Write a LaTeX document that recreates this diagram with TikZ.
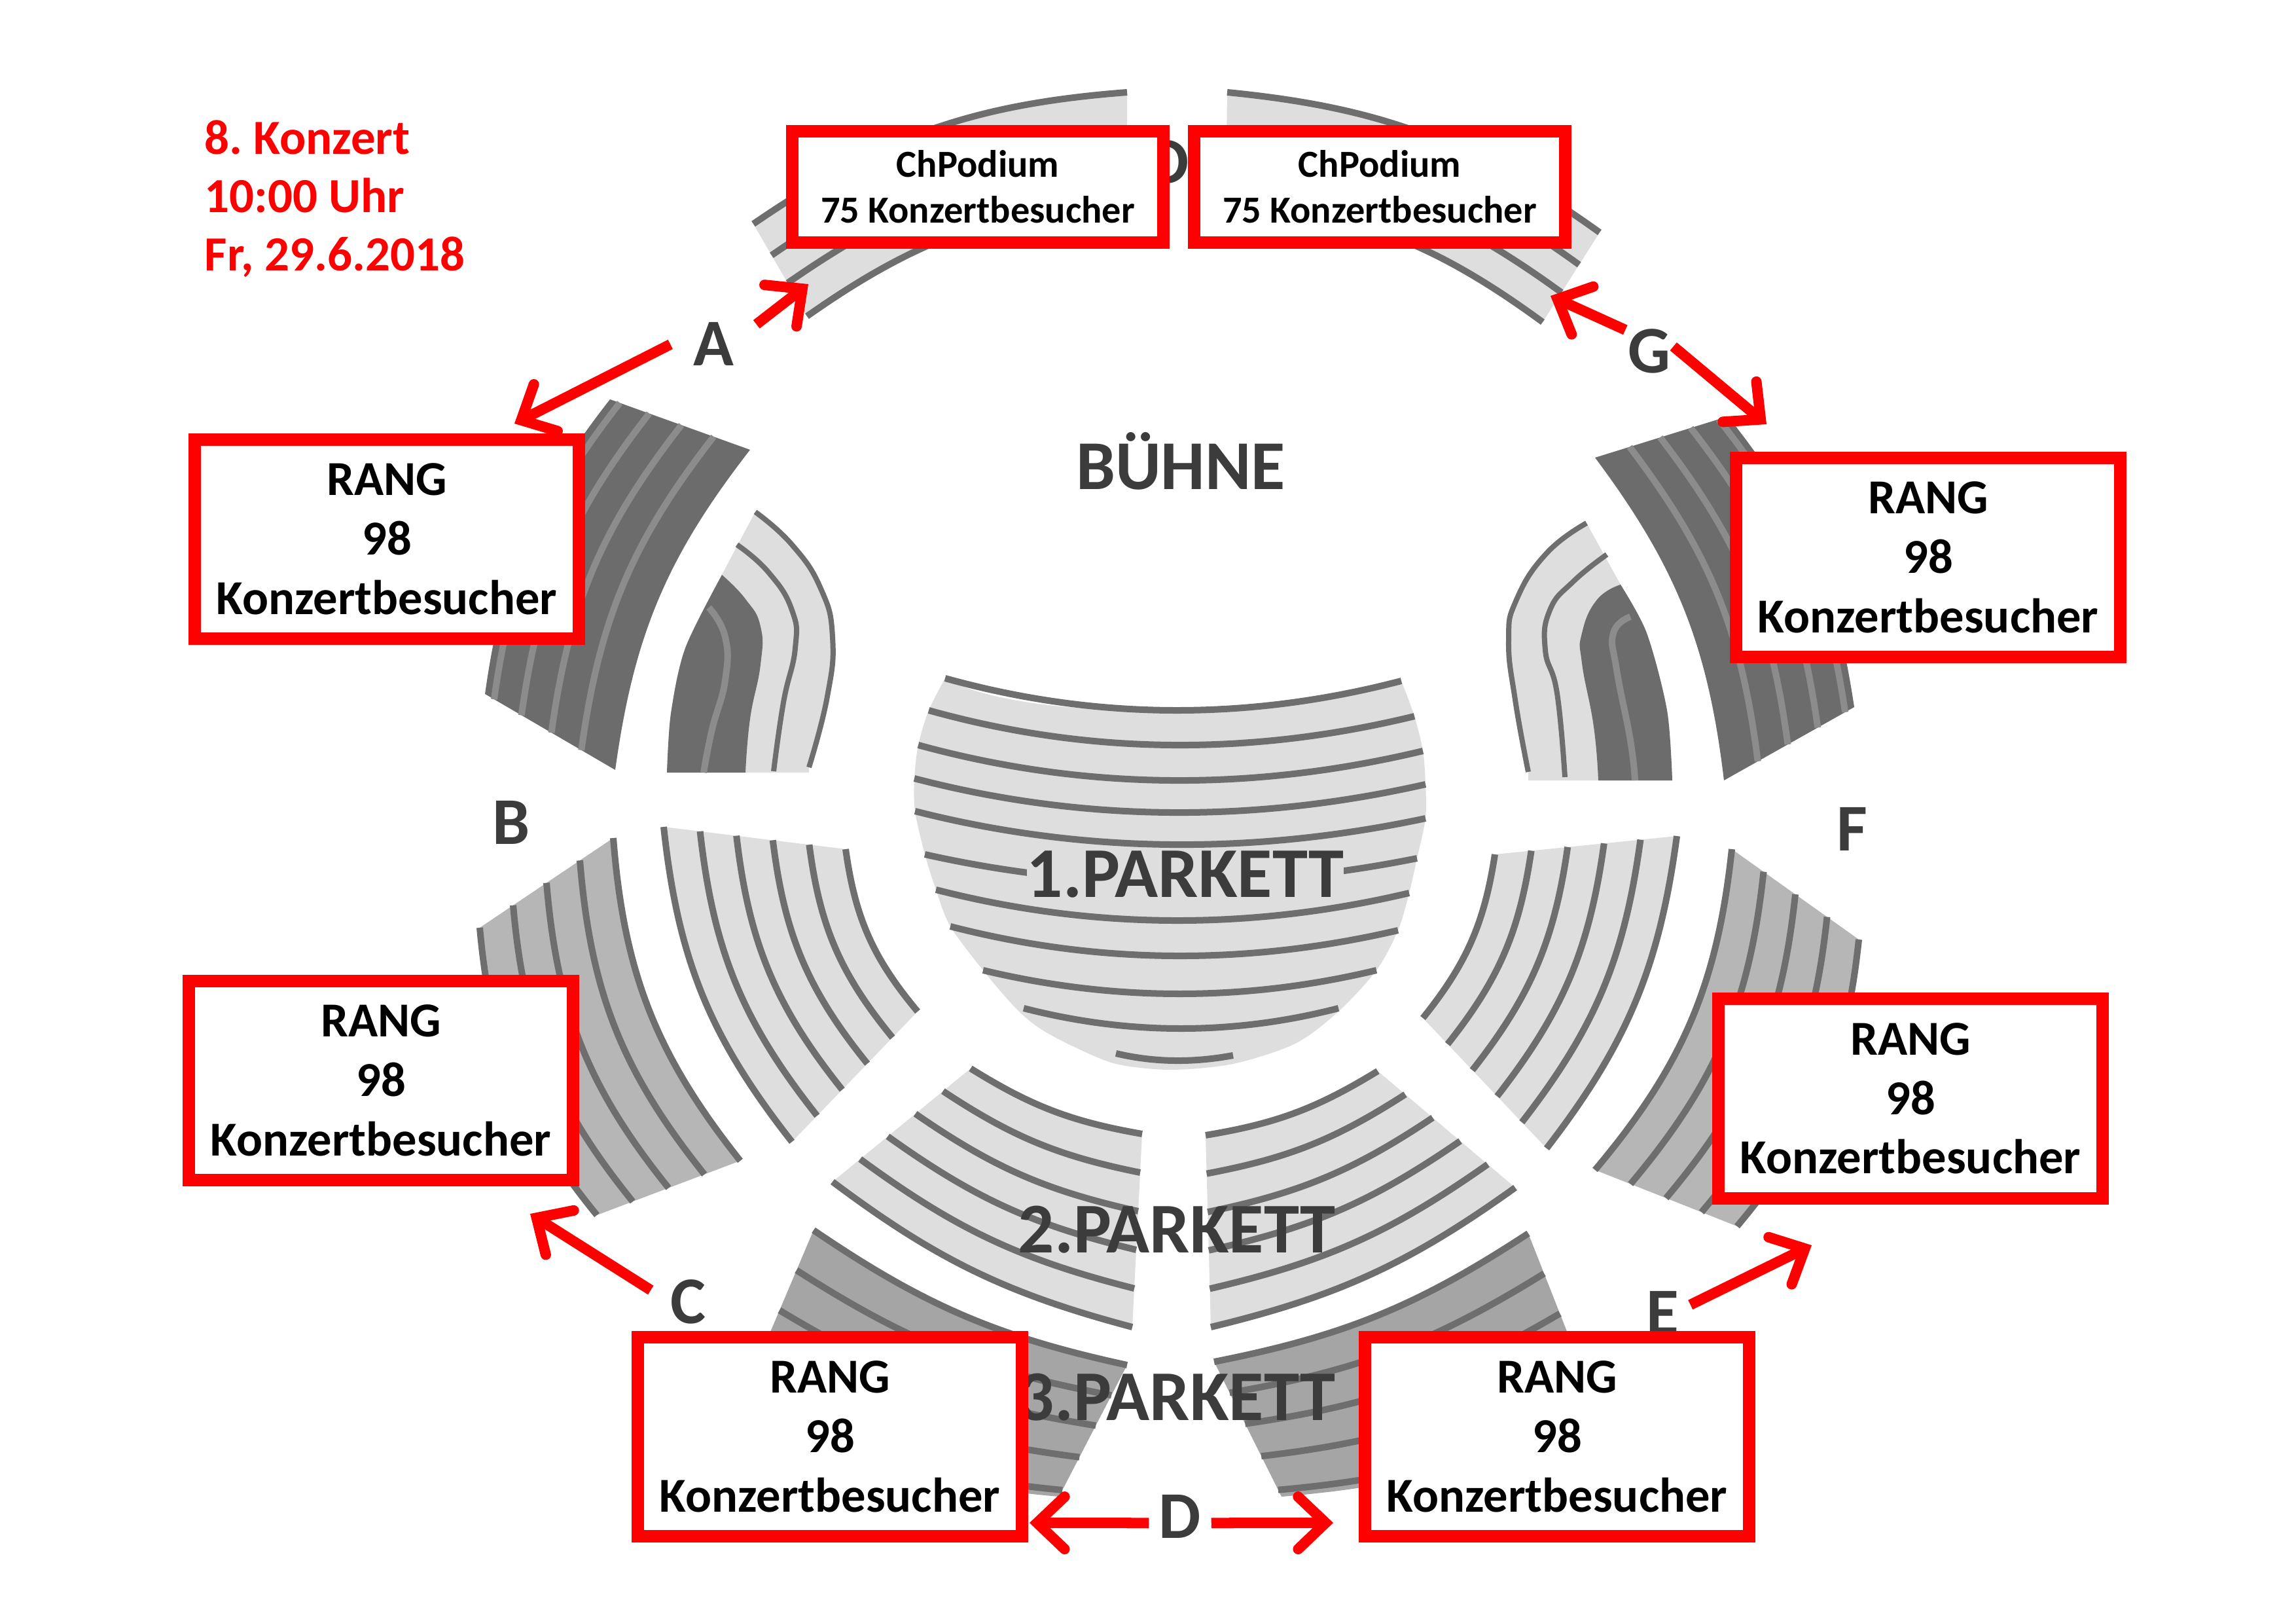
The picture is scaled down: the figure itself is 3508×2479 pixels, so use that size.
\documentclass[tikz,border=0pt]{standalone}
\usepackage{fontspec}
\setmainfont{Carlito}
\usepackage{xcolor}
\usetikzlibrary{arrows.meta, calc}
\definecolor{RedMark}{RGB}{255, 0, 0}
\definecolor{ScanInk}{RGB}{60, 60, 60}
\definecolor{SeatDark}{RGB}{108, 108, 108}
\definecolor{SeatDarkRow}{RGB}{140, 140, 140}
\definecolor{SeatMid}{RGB}{182, 182, 182}
\definecolor{SeatLow}{RGB}{165, 165, 165}
\definecolor{SeatLight}{RGB}{222, 222, 222}
\definecolor{SeatRow}{RGB}{110, 110, 110}

% inner start, inner end, outer end, outer start, bend, fill, row colour, rows
\newcommand{\seatblock}[8]{
  \fill[#6] #1 to[bend right=#5] #2 -- #3 to[bend left=#5] #4 -- cycle;
  \foreach \rowpos in {#8}
    \draw[seatrow, #7] ($#1!\rowpos!#4$) to[bend right=#5] ($#2!\rowpos!#3$);
}

\tikzset{
  seatrow/.style={line width=0.10cm},
  rangbox/.style={draw=RedMark, line width=0.19cm, fill=white, align=center, inner sep=0pt,
    minimum width=5.87cm, minimum height=3.04cm, text=black,
    font=\fontsize{21.2}{25.8}\selectfont\bfseries},
  podiumbox/.style={draw=RedMark, line width=0.19cm, fill=white, align=center, inner sep=0pt,
    minimum width=5.67cm, minimum height=1.70cm, text=black,
    font=\fontsize{16.6}{19.9}\selectfont\bfseries},
  scanletter/.style={text=ScanInk, inner sep=0pt, minimum height=1cm, text height=0.65cm, text depth=0pt,
    font=\fontsize{29}{30}\selectfont\bfseries},
  scanlabel/.style={text=ScanInk, inner sep=0pt, text height=0.7cm, text depth=0pt,
    font=\fontsize{31}{32}\selectfont\bfseries},
  redarrow/.style={draw=RedMark, line width=0.16cm,
    -{Straight Barb[length=0.42cm, width=0.8cm, line width=0.16cm, line cap=round, line join=miter]}}
}

\begin{document}
\begin{tikzpicture}[x=0.01cm,y=-0.01cm]
  \useasboundingbox (0,0) rectangle (3508,2479);

  % choir podium
  \seatblock{(1722,304)}{(1233,483)}{(1151,342)}{(1722,141)}{15}{SeatLight}{SeatRow}{0,0.36,0.66,1}
  \seatblock{(2357,492)}{(1873,304)}{(1875,141)}{(2444,355)}{15}{SeatLight}{SeatRow}{0,0.33,0.64,1}

  % upper rank
  \seatblock{(1146,687)}{(940,1176)}{(741,1060)}{(932,610)}{15}{SeatDark}{SeatDarkRow}{0.26,0.49,0.72,0.93}
  \seatblock{(2634,1192)}{(2437,699)}{(2640,636)}{(2833,1080)}{15}{SeatDark}{SeatDarkRow}{0.26,0.49,0.72,0.93}

  % small side blocks
  \fill[SeatLight] plot[smooth, tension=0.8] coordinates {(1154,782) (1210,832) (1254,899) (1272,973) (1264,1064) (1236,1172)}
    -- (1236,1180) -- (1019,1180) -- plot[smooth] coordinates {(1019,1180) (1025,1090) (1047,990) (1103,878) (1154,782)} -- cycle;
  \fill[SeatDark] plot[smooth, tension=0.8] coordinates {(1103,878) (1139,915) (1162,957) (1162,1015) (1146,1098) (1139,1180)}
    -- (1019,1180) -- plot[smooth] coordinates {(1019,1180) (1025,1090) (1047,990) (1103,878)} -- cycle;
  \draw[seatrow, SeatDarkRow] plot[smooth, tension=0.8] coordinates {(1083,928) (1108,973) (1108,1039) (1088,1114) (1075,1180)};
  \draw[seatrow, SeatRow, line width=0.08cm] plot[smooth, tension=0.8] coordinates {(1154,782) (1210,832) (1254,899) (1272,973) (1264,1064) (1236,1172)};
  \draw[seatrow, SeatRow, line width=0.08cm] plot[smooth, tension=0.8] coordinates {(1126,832) (1174,874) (1210,932) (1215,990) (1197,1073) (1182,1178)};

  \fill[SeatLight] plot[smooth, tension=0.8] coordinates {(2424,799) (2363,845) (2317,916) (2305,978) (2315,1069) (2335,1179)}
    -- (2335,1192) -- (2555,1192) -- plot[smooth] coordinates {(2555,1192) (2547,1085) (2516,967) (2476,893) (2424,799)} -- cycle;
  \fill[SeatDark] plot[smooth, tension=0.8] coordinates {(2476,893) (2440,916) (2417,967) (2417,1013) (2435,1110) (2442,1192)}
    -- (2555,1192) -- plot[smooth] coordinates {(2555,1192) (2547,1085) (2516,967) (2476,893)} -- cycle;
  \draw[seatrow, SeatDarkRow] plot[smooth, tension=0.8] coordinates {(2491,942) (2465,967) (2470,1023) (2491,1131) (2498,1192)};
  \draw[seatrow, SeatRow, line width=0.08cm] plot[smooth, tension=0.8] coordinates {(2424,799) (2363,845) (2317,916) (2305,978) (2315,1069) (2335,1179)};
  \draw[seatrow, SeatRow, line width=0.08cm] plot[smooth, tension=0.8] coordinates {(2455,847) (2404,888) (2368,932) (2361,993) (2379,1059) (2391,1187)};

  % lower rank
  \seatblock{(937,1280)}{(1131,1773)}{(912,1856)}{(733,1417)}{17}{SeatMid}{SeatRow}{0,0.25,0.5,0.75,1}
  \seatblock{(2437,1787)}{(2646,1297)}{(2840,1435)}{(2654,1873)}{17}{SeatMid}{SeatRow}{0,0.25,0.5,0.75,1}

  % side parkett
  \seatblock{(1292,1297)}{(1402,1545)}{(1210,1744)}{(1014,1263)}{16}{SeatLight}{SeatRow}{0,0.2,0.4,0.6,0.8,1}
  \seatblock{(2174,1555)}{(2284,1305)}{(2562,1277)}{(2363,1754)}{15}{SeatLight}{SeatRow}{0,0.2,0.4,0.6,0.8,1}

  % 1. parkett
  \fill[SeatLight] (1444,1036) .. controls (1559,1101) and (1915,1101) .. (2141,1040)
    -- plot[smooth] coordinates {(2141,1040) (2161,1094) (2174,1147) (2178,1198) (2178,1250) (2165,1311) (2153,1364) (2136,1421) (2103,1482) (2045,1545) (1979,1594) (1884,1625) (1788,1634) (1705,1625) (1639,1598) (1589,1571) (1552,1540) (1502,1482) (1452,1415) (1430,1359) (1413,1305) (1398,1239) (1397,1189) (1403,1138) (1419,1085) (1444,1036)} -- cycle;
  \foreach \xa/\ya/\ym/\xb/\yb in {1444/1036/1085/2141/1040, 1419/1085/1138/2161/1094, 1403/1138/1192/2174/1147,
      1397/1189/1241/2178/1198, 1398/1239/1290/2178/1250, 1413/1305/1348/2165/1311, 1430/1359/1406/2153/1364,
      1452/1415/1460/2136/1421, 1502/1482/1518/2103/1482, 1564/1540/1571/2045/1540, 1705/1609/1620/1884/1612}
    \draw[seatrow, SeatRow] (\xa,\ya) .. controls ({\xa+(\xb-\xa)/3},{\ym+(\ym-(\ya+\yb)/2)/3})
      and ({\xa+2*(\xb-\xa)/3},{\ym+(\ym-(\ya+\yb)/2)/3}) .. (\xb,\yb);

  % 2. parkett
  \seatblock{(1483,1632)}{(1745,1732)}{(1730,2027)}{(1272,1805)}{11}{SeatLight}{SeatRow}{0,0.2,0.4,0.6,0.8,1}
  \seatblock{(1842,1734)}{(2105,1636)}{(2315,1814)}{(1850,2027)}{11}{SeatLight}{SeatRow}{0,0.2,0.4,0.6,0.8,1}

  % 3. parkett
  \seatblock{(1243,1879)}{(1722,2085)}{(1618,2286)}{(1130,2145)}{11}{SeatLow}{SeatRow}{0,0.23,0.46,0.7,0.95}
  \seatblock{(1855,2080)}{(2335,1884)}{(2440,2150)}{(1958,2286)}{11}{SeatLow}{SeatRow}{0,0.23,0.46,0.7,0.95}

  % printed labels of the plan
  \node[scanlabel, font=\fontsize{30.4}{32}\selectfont\bfseries] (lblBuehne) at (1804,712) {BÜHNE};
  \node[scanlabel, fill=SeatLight] (lblParkettA) at (1811,1335) {1.PARKETT};
  \node[scanlabel] (lblParkettB) at (1798,1878) {2.PARKETT};
  \node[scanlabel] (lblParkettC) at (1798,2134) {3.PARKETT};
  \node[scanletter, minimum width=1.3cm] (lblA) at (1090,526) {A};
  \node[scanletter] (lblB) at (781,1257) {B};
  \node[scanletter, minimum width=1.12cm] (lblC) at (1051,1989) {C};
  \node[scanletter, minimum width=0.94cm] (lblD) at (1803,2317) {D};
  \node[scanletter, minimum width=0.84cm] (lblE) at (2540,2006) {E};
  \node[scanletter] (lblF) at (2830,1267) {F};
  \node[scanletter, minimum width=0.72cm] (lblG) at (2520,537) {G};
  \node[scanletter] (lblTop) at (1785,248) {D};

  % boxes
  \node[podiumbox] (boxPodiumL) at (1494,285.5) {ChPodium\\75 Konzertbesucher};
  \node[podiumbox] (boxPodiumR) at (2108,285.5) {ChPodium\\75 Konzertbesucher};
  \node[rangbox] (boxRangA) at (591,823.5) {RANG\\98\\Konzertbesucher};
  \node[rangbox] (boxRangG) at (2946,851.5) {RANG\\98\\Konzertbesucher};
  \node[rangbox] (boxRangC) at (582,1650.5) {RANG\\98\\Konzertbesucher};
  \node[rangbox] (boxRangE) at (2919,1678) {RANG\\98\\Konzertbesucher};
  \node[rangbox] (boxRangDl) at (1268,2194.5) {RANG\\98\\Konzertbesucher};
  \node[rangbox] (boxRangDr) at (2379,2194.5) {RANG\\98\\Konzertbesucher};

  \node[text=RedMark, anchor=north west, align=left, inner sep=0pt, font=\fontsize{21.3}{25.3}\selectfont\bfseries] (lblConcert) at (312,183) {8.~Konzert\\10:00 Uhr\\Fr, 29.6.2018};

  % arrows
  \coordinate (tipAl) at (786,647);
  \coordinate (tipAr) at (1235,434);
  \coordinate (tipGl) at (2369,452);
  \coordinate (tipGr) at (2699,648);
  \coordinate (tipC) at (810,1854);
  \coordinate (tipE) at (2768,1902);
  \coordinate (tipDl) at (1573,2326);
  \coordinate (tipDr) at (2037,2326);
  \draw[redarrow] (lblA.west) -- (tipAl);
  \draw[redarrow] (lblA.25) -- (tipAr);
  \draw[redarrow] (lblG.138) -- (tipGl);
  \draw[redarrow] (lblG.12) -- (tipGr);
  \draw[redarrow] (lblC.162) -- (tipC);
  \draw[redarrow] (lblE.17) -- (tipE);
  \draw[redarrow] (lblD.191) -- (tipDl);
  \draw[redarrow] (lblD.-11) -- (tipDr);
\end{tikzpicture}
\end{document}
